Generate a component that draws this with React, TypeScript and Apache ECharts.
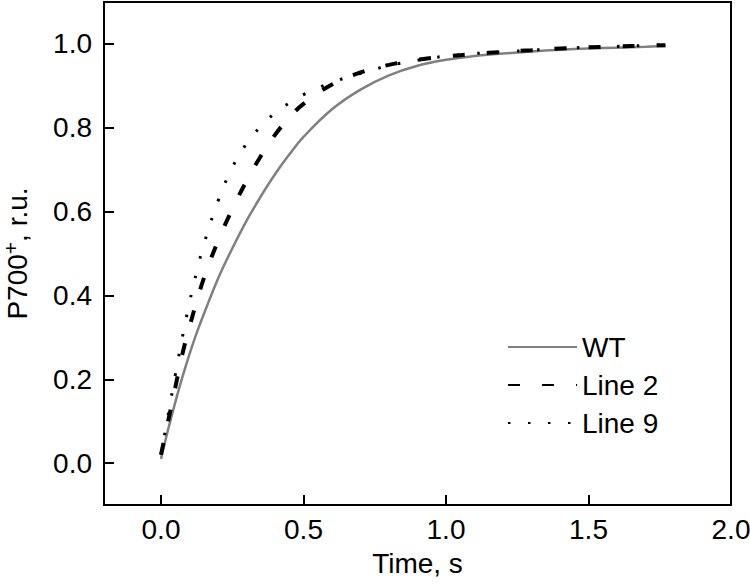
import React, { useEffect, useRef } from "react";
import * as echarts from "echarts";

const time = [0, 0.025, 0.05, 0.075, 0.1, 0.125, 0.15, 0.2, 0.25, 0.3, 0.35, 0.4, 0.45, 0.5, 0.6, 0.7, 0.8, 0.9, 1.0, 1.1, 1.2, 1.3, 1.4, 1.5, 1.6, 1.7, 1.77];
const wt = [0.01, 0.08, 0.145, 0.205, 0.26, 0.31, 0.355, 0.44, 0.512, 0.578, 0.636, 0.689, 0.736, 0.778, 0.844, 0.891, 0.925, 0.948, 0.962, 0.971, 0.977, 0.982, 0.986, 0.989, 0.991, 0.993, 0.995];
const line2 = [0.02, 0.1, 0.18, 0.26, 0.325, 0.385, 0.44, 0.53, 0.605, 0.673, 0.732, 0.783, 0.824, 0.857, 0.903, 0.932, 0.95, 0.962, 0.97, 0.976, 0.981, 0.985, 0.989, 0.992, 0.994, 0.996, 0.997];
const line9 = [0.02, 0.115, 0.21, 0.3, 0.383, 0.456, 0.521, 0.625, 0.705, 0.762, 0.803, 0.835, 0.859, 0.879, 0.908, 0.93, 0.948, 0.961, 0.971, 0.977, 0.981, 0.985, 0.989, 0.992, 0.994, 0.996, 0.997];
const xTicks = [0, 0.5, 1.0, 1.5, 2.0];
const yTicks = [0, 0.2, 0.4, 0.6, 0.8, 1.0];
const seriesNames = ["WT", "Line 2", "Line 9"];

const FONT = "'Liberation Sans', Arial, sans-serif";

export default function App() {
  const ref = useRef<HTMLDivElement>(null);
  useEffect(() => {
    if (!ref.current) return;
    const chart = echarts.init(ref.current, undefined, { renderer: "svg" });
    const pairs = (vals: number[]) => time.map((t, i) => [t, vals[i]]);
    chart.setOption({
      animation: false,
      textStyle: { fontFamily: FONT },
      grid: {
        left: 104,
        right: 19,
        top: 2,
        bottom: 79,
        show: true,
        borderColor: "#000",
        borderWidth: 2,
        backgroundColor: "transparent",
        containLabel: false,
        outerBoundsMode: "none",
      },
      legend: {
        orient: "vertical",
        left: 502,
        top: 328,
        itemWidth: 69,
        itemHeight: 14,
        itemGap: 10,
        data: seriesNames,
        itemStyle: { opacity: 0 },
        textStyle: { fontSize: 28, color: "#000", fontFamily: FONT, padding: [0, 0, 0, 0] },
      },
      xAxis: {
        type: "value",
        min: -0.2,
        max: 2.0,
        name: "Time, s",
        nameLocation: "middle",
        nameGap: 44,
        nameTextStyle: { fontSize: 28, color: "#000", fontFamily: FONT },
        axisLine: { show: true, onZero: false, lineStyle: { color: "#000", width: 2 } },
        axisTick: { show: true, inside: true, length: 10, customValues: xTicks, lineStyle: { color: "#000", width: 2 } },
        axisLabel: {
          customValues: xTicks,
          fontSize: 28,
          color: "#000",
          margin: 10,
          fontFamily: FONT,
          formatter: (v: number) => v.toFixed(1),
        },
        splitLine: { show: false },
      },
      yAxis: {
        type: "value",
        min: -0.1,
        max: 1.1,
        name: "{a|P700}{b|+}{a|, r.u.}",
        nameLocation: "middle",
        nameGap: 70,
        nameTextStyle: {
          color: "#000",
          fontFamily: FONT,
          rich: {
            a: { fontSize: 28, color: "#000", fontFamily: FONT, lineHeight: 34 },
            b: { fontSize: 21, color: "#000", fontFamily: FONT, verticalAlign: "top", lineHeight: 34, padding: [0, 0, 12, 0] },
          },
        },
        axisLine: { show: true, onZero: false, lineStyle: { color: "#000", width: 2 } },
        axisTick: { show: true, inside: true, length: 10, customValues: yTicks, lineStyle: { color: "#000", width: 2 } },
        axisLabel: {
          customValues: yTicks,
          fontSize: 28,
          color: "#000",
          margin: 12,
          fontFamily: FONT,
          formatter: (v: number) => v.toFixed(1),
        },
        splitLine: { show: false },
      },
      series: [
        {
          name: seriesNames[0],
          type: "line",
          data: pairs(wt),
          showSymbol: false,
          symbol: "none",
          smooth: 0.4,
          itemStyle: { color: "#808080" },
          lineStyle: { color: "#808080", width: 2.5, type: "solid" },
          z: 2,
        },
        {
          name: seriesNames[1],
          type: "line",
          data: pairs(line2),
          showSymbol: false,
          symbol: "none",
          smooth: 0.4,
          itemStyle: { color: "#000" },
          lineStyle: { color: "#000", width: 4, type: [12, 22] },
          z: 3,
        },
        {
          name: seriesNames[2],
          type: "line",
          data: pairs(line9),
          showSymbol: false,
          symbol: "none",
          smooth: 0.4,
          itemStyle: { color: "#000" },
          lineStyle: { color: "#000", width: 3, type: [2.5, 17.5] },
          z: 4,
        },
      ],
    });
    return () => chart.dispose();
  }, []);
  return <div ref={ref} style={{ position: "absolute", left: 0, top: 0, width: 750, height: 584 }} />;
}
